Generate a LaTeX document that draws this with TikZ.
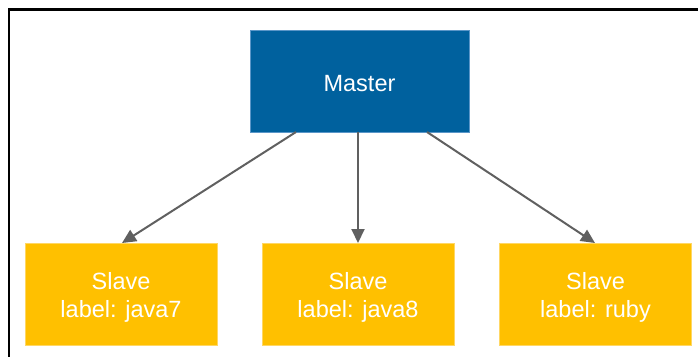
\documentclass[tikz,border=0pt]{standalone}
\usepackage{fontspec}
\setmainfont{Liberation Sans}
\usetikzlibrary{arrows.meta}
\definecolor{masterblue}{RGB}{0,97,158}
\definecolor{masteredge}{RGB}{90,150,200}
\definecolor{slaveyellow}{RGB}{255,192,0}
\definecolor{slaveedge}{RGB}{255,215,100}
\definecolor{arrowgray}{RGB}{96,96,96}
\newcommand{\placedline}[2]{\raisebox{#1}[0pt][0pt]{\makebox[0pt]{#2}}}
\newcommand{\twolines}[2]{\placedline{5pt}{#1}\placedline{-23pt}{#2}}
\tikzset{
  box/.style={rectangle, inner sep=0pt, outer sep=0pt, text=white,
    font=\fontsize{23.5}{27}\selectfont, line width=0.8pt},
  masterbox/.style={box, fill=masterblue, draw=masteredge, minimum width=219pt, minimum height=102pt},
  slavebox/.style={box, fill=slaveyellow, draw=slaveedge, minimum width=192pt, minimum height=102pt},
  conn/.style={draw=arrowgray, line width=2pt, -{Triangle[length=14pt,width=13pt]}},
  frameline/.style={draw=black, line width=2.5pt}
}
\begin{document}
\begin{tikzpicture}[x=1pt,y=1pt]
  \useasboundingbox (0,0) rectangle (698,357);
  \coordinate (ftop) at (698,347.5);
  \coordinate (fcorner) at (9,347.5);
  \coordinate (fbottom) at (9,0);
  \draw[frameline] (ftop) -- (fcorner) -- (fbottom);

  \node[masterbox] (master) at (359.5,276) {\placedline{-10pt}{Master}};
  \node[slavebox] (s1) at (121,63) {\twolines{Slave}{label: java7}};
  \node[slavebox] (s2) at (358,63) {\twolines{Slave}{label: java8}};
  \node[slavebox] (s3) at (595.5,63) {\twolines{Slave}{label: ruby}};

  \draw[conn] (master.south -| 296,0) -- (s1.north -| 122,0);
  \draw[conn] (master.south -| 358,0) -- (s2.north -| 358,0);
  \draw[conn] (master.south -| 427,0) -- (s3.north -| 595,0);
\end{tikzpicture}
\end{document}
